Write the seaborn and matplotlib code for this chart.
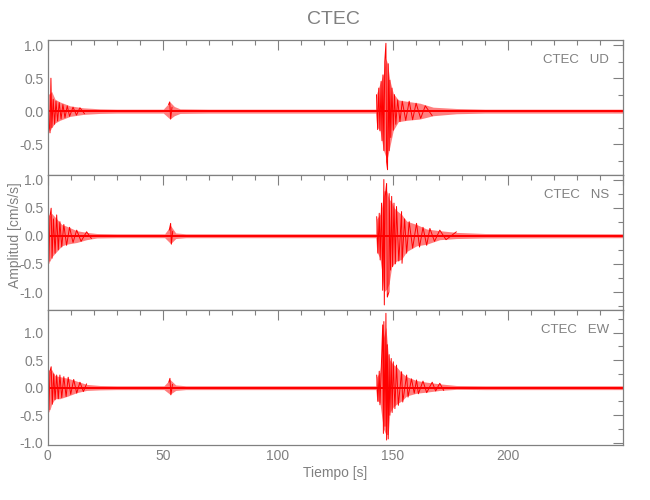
import numpy as np
import pandas as pd
import matplotlib
matplotlib.use("Agg")
import matplotlib.pyplot as plt
from matplotlib.ticker import MultipleLocator
import seaborn as sns

# ---------------- data ----------------
components = ["UD", "NS", "EW"]
station = "CTEC"

# envelope knots (time s, upper / lower amplitude cm/s/s)
ud_env_t = [0, 1, 1.7, 3.2, 5.3, 9.7, 15.5, 22.7, 30, 50.2, 53.1, 55, 57.5, 70, 142.5, 142.9,
            144.3, 145.8, 146.9, 147.6, 148.6, 150.1, 152.3, 155.9, 161.7, 167.4, 177.5, 190, 250]
ud_env_hi = [0.25, 0.27, 0.3, 0.18, 0.14, 0.08, 0.05, 0.035, 0.03, 0.03, 0.14, 0.07, 0.035, 0.03, 0.03, 0.27,
             0.42, 0.57, 0.8, 0.72, 0.47, 0.27, 0.17, 0.15, 0.12, 0.06, 0.04, 0.03, 0.03]
ud_env_lo = [-0.2, -0.3, -0.25, -0.18, -0.14, -0.08, -0.05, -0.035, -0.03, -0.03, -0.12, -0.07, -0.035, -0.03, -0.03, -0.24,
             -0.29, -0.59, -0.7, -0.7, -0.54, -0.29, -0.16, -0.14, -0.12, -0.07, -0.04, -0.03, -0.03]

ns_env_t = [0, 1, 1.7, 3.9, 6.1, 8.2, 12.6, 16.9, 21.3, 30, 50.8, 53.4, 55.6, 60, 142.5, 142.9, 144.3,
            145.0, 146.0, 147.2, 148.3, 149.4, 150.4, 151.5, 153.7, 155.9, 160.2, 164.6, 170.3, 177.5, 190, 250]
ns_env_hi = [0.4, 0.35, 0.4, 0.3, 0.2, 0.17, 0.09, 0.06, 0.04, 0.035, 0.035, 0.18, 0.05, 0.035, 0.035, 0.3, 0.38,
             0.5, 0.8, 0.8, 0.65, 0.6, 0.5, 0.45, 0.38, 0.26, 0.2, 0.12, 0.09, 0.06, 0.04, 0.035]
ns_env_lo = [-0.45, -0.45, -0.38, -0.28, -0.18, -0.15, -0.12, -0.07, -0.04, -0.035, -0.035, -0.14, -0.05, -0.035, -0.035, -0.28, -0.4,
             -0.6, -1.0, -0.95, -0.85, -0.55, -0.5, -0.45, -0.42, -0.28, -0.18, -0.15, -0.07, -0.05, -0.04, -0.035]

ew_env_t = [0, 1, 1.7, 3.2, 5.3, 8.9, 12.6, 16.9, 22.7, 30, 50.5, 53.1, 55.6, 60, 142.5, 142.9, 144.3,
            145.8, 146.9, 147.9, 148.6, 150.1, 151.5, 153.7, 155.9, 160.2, 164.6, 170.3, 177.5, 190, 250]
ew_env_hi = [0.35, 0.3, 0.33, 0.22, 0.2, 0.17, 0.12, 0.06, 0.04, 0.035, 0.035, 0.15, 0.05, 0.035, 0.035, 0.2, 0.28,
             0.9, 1.1, 0.6, 0.5, 0.42, 0.38, 0.27, 0.2, 0.13, 0.1, 0.07, 0.04, 0.035, 0.035]
ew_env_lo = [-0.4, -0.4, -0.3, -0.2, -0.2, -0.15, -0.09, -0.05, -0.04, -0.035, -0.035, -0.12, -0.05, -0.035, -0.035, -0.22, -0.28,
             -0.75, -0.85, -0.85, -0.45, -0.35, -0.3, -0.24, -0.15, -0.1, -0.08, -0.05, -0.03, -0.035, -0.035]

# individual peaks (time s, amplitude cm/s/s)
ud_peak_t = [0.3, 0.6, 1.0, 1.4, 1.8, 2.4, 3.0, 3.6, 4.3, 5.0, 5.8, 6.6, 7.5, 8.5, 9.5, 11, 12.5, 14, 16,
             52.5, 53.0, 53.4, 54.0,
             142.8, 143.3, 143.8, 144.3, 144.8, 145.2, 145.6, 146.0, 146.4, 146.9, 147.2, 147.6, 147.9, 148.3,
             148.6, 149.0, 149.5, 150.1, 150.6, 151.2, 152.0, 153, 154, 155.5, 157, 158.5, 160, 162, 164, 167]
ud_peak_a = [0.22, -0.2, -0.33, 0.5, -0.25, 0.18, -0.2, 0.15, -0.15, 0.13, -0.12, 0.1, -0.1, 0.08, -0.08, 0.06, -0.06, 0.05, -0.04,
             0.1, 0.14, -0.12, 0.06,
             0.25, -0.28, 0.35, -0.3, 0.45, -0.45, 0.55, -0.6, 0.75, 1.03, -0.77, -0.89, 0.72, -0.6,
             0.47, -0.4, 0.35, -0.29, 0.25, -0.2, 0.17, -0.16, 0.15, -0.14, 0.15, -0.13, 0.12, -0.11, 0.08, -0.07]

ns_peak_t = [0.2, 0.5, 1.0, 1.5, 1.9, 2.5, 3.2, 3.9, 4.6, 5.3, 6.1, 7, 8.2, 9.5, 11, 12.6, 14.5, 16.9, 19,
             52.8, 53.4, 53.7, 54.3,
             142.9, 143.4, 144.0, 144.4, 145.0, 145.5, 146.0, 146.2, 146.6, 147.2, 147.5, 148.2, 148.3, 148.9,
             149.4, 149.8, 150.4, 151.0, 151.5, 152.5, 153.7, 153.9, 155, 155.9, 157, 158.5, 160.2, 161.5, 163,
             164.6, 166, 168, 170.3, 173, 177.5]
ns_peak_a = [0.45, -0.49, 0.35, 0.49, -0.4, 0.3, -0.31, 0.37, -0.25, 0.25, -0.2, 0.2, -0.17, 0.15, -0.12, 0.1, -0.1, 0.07, -0.05,
             0.1, 0.22, -0.15, 0.08,
             0.34, -0.31, 0.4, -0.43, 0.58, -0.97, 1.0, -1.23, 0.7, 0.93, -1.09, -1.0, 0.75, -0.61,
             0.7, -0.55, 0.58, -0.5, 0.52, -0.45, 0.43, -0.49, 0.3, -0.31, 0.25, -0.22, 0.22, -0.2, 0.15,
             -0.17, 0.13, -0.1, 0.1, -0.07, 0.07]

ew_peak_t = [0.2, 0.5, 1.0, 1.5, 2.0, 2.6, 3.2, 3.9, 4.6, 5.3, 6.1, 7, 8.0, 8.9, 10, 11.3, 12.6, 14, 15.5, 16.9,
             52.6, 53.1, 53.5, 54.2,
             142.9, 143.4, 144.0, 144.3, 145.0, 145.5, 145.8, 146.0, 146.5, 146.9, 147.2, 147.5, 147.9, 148.3,
             148.6, 149.2, 149.6, 150.1, 150.8, 151.5, 152.3, 153.7, 154.2, 155.9, 156.5, 158, 159.2, 160.2,
             161, 163, 164.6, 167, 168.5, 170.3, 172]
ew_peak_a = [0.38, -0.44, 0.3, 0.38, -0.3, 0.25, -0.22, 0.23, -0.2, 0.23, -0.18, 0.2, -0.16, 0.19, -0.12, 0.15, -0.1, 0.1, -0.07, 0.07,
             0.1, 0.17, -0.13, 0.06,
             0.23, -0.25, 0.3, -0.31, 0.5, 1.14, -0.83, 1.2, -0.7, 1.35, -0.95, 0.78, -0.93, 0.6,
             -0.5, 0.53, -0.45, 0.47, -0.38, 0.41, -0.32, 0.29, -0.26, 0.23, -0.17, 0.16, -0.1, 0.14,
             -0.11, 0.12, -0.09, 0.1, -0.06, 0.08, -0.05]

y_limits = {"UD": (-0.97, 1.08), "NS": (-1.32, 1.08), "EW": (-1.04, 1.41)}
x_ticks = [0, 50, 100, 150, 200]

envs = {"UD": (ud_env_t, ud_env_hi, ud_env_lo),
        "NS": (ns_env_t, ns_env_hi, ns_env_lo),
        "EW": (ew_env_t, ew_env_hi, ew_env_lo)}
peaks = {"UD": (ud_peak_t, ud_peak_a), "NS": (ns_peak_t, ns_peak_a), "EW": (ew_peak_t, ew_peak_a)}

# ---------------- style ----------------
sns.set_theme(style="white")
plt.rcParams["font.family"] = ["Liberation Sans", "DejaVu Sans"]
gray = "#808080"
red = "#ff0000"

fig = plt.figure(figsize=(6.5, 5.0), dpi=100)
left, width = 47.7 / 650, (623.3 - 47.7) / 650
h = 135 / 500
bottoms = [1 - 175 / 500, 1 - 310 / 500, 1 - 445 / 500]

for i, comp in enumerate(components):
    ax = fig.add_axes([left, bottoms[i], width, h])
    et, ehi, elo = envs[comp]
    ax.fill_between(et, elo, ehi, color=red, alpha=0.5, linewidth=0)
    pt, pa = peaks[comp]
    burst = np.concatenate([[0], np.cumsum(np.diff(pt) > 10)])
    df = pd.DataFrame({"t": pt, "a": pa, "burst": burst})
    sns.lineplot(data=df, x="t", y="a", units="burst", estimator=None, sort=True,
                 color=red, lw=0.7, ax=ax, legend=False)
    ax.fill_between(et, [-0.02] * len(et), [0.02] * len(et), color=red, linewidth=0)
    ax.axhline(0, color=red, lw=1.2)

    ax.set_xlim(0, 250)
    ax.set_ylim(*y_limits[comp])
    ax.xaxis.set_major_locator(MultipleLocator(50))
    ax.xaxis.set_minor_locator(MultipleLocator(10))
    ax.yaxis.set_major_locator(MultipleLocator(0.5))
    ax.yaxis.set_minor_locator(MultipleLocator(0.25))
    ax.tick_params(which="both", direction="in", top=True, right=True,
                   colors=gray, labelcolor=gray, labelsize=10, width=0.8, pad=3)
    ax.tick_params(which="major", length=7.5)
    ax.tick_params(which="minor", length=3.8)
    for s in ax.spines.values():
        s.set_color(gray)
        s.set_linewidth(0.9)
    ax.yaxis.set_major_formatter(matplotlib.ticker.FormatStrFormatter("%.1f"))
    ax.set_xlabel("")
    ax.set_ylabel("")
    if i < 2:
        ax.tick_params(axis="x", labelbottom=False)
    else:
        ax.set_xticks(x_ticks)
        ax.set_xlabel("Tiempo [s]", color=gray, fontsize=10, labelpad=2)
    ax.text(0.975, 0.85, f"{station}   {comp}", transform=ax.transAxes,
            ha="right", va="center", color=gray, fontsize=9.5)

fig.text(15 / 650, 1 - 235 / 500, "Amplitud [cm/s/s]", rotation=90,
         ha="center", va="center", color=gray, fontsize=10)
fig.text(333 / 650, 1 - 20 / 500, station, ha="center", va="center",
         color=gray, fontsize=14)

fig.savefig("out.png", dpi=100)
